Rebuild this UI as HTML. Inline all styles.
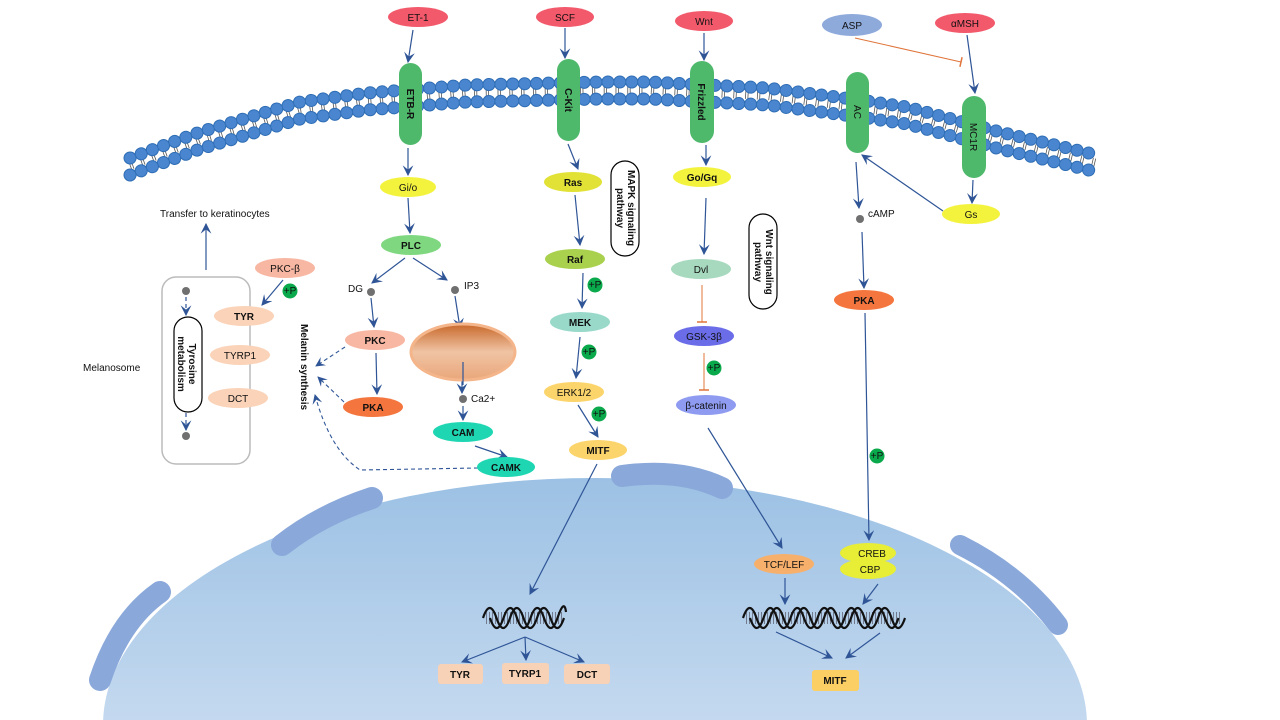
<!DOCTYPE html>
<html><head><meta charset="utf-8"><style>
html,body{margin:0;padding:0;background:#fff;overflow:hidden;width:1280px;height:720px}
svg{display:block}
text{font-family:"Liberation Sans",sans-serif;font-weight:bold;font-size:10px;fill:#111}
.n{font-weight:normal}
</style></head><body>
<svg width="1280" height="720" viewBox="0 0 1280 720" xmlns="http://www.w3.org/2000/svg">
<defs>
<linearGradient id="nuc" x1="0" y1="0" x2="0" y2="1"><stop offset="0" stop-color="#9cc1e4"/><stop offset="1" stop-color="#c4d9ef"/></linearGradient>
<linearGradient id="er" x1="0" y1="0" x2="0" y2="1"><stop offset="0" stop-color="#c8682a"/><stop offset="0.5" stop-color="#f0c4a4"/><stop offset="1" stop-color="#e9a67a"/></linearGradient>
<marker id="a" viewBox="0 0 10 10" refX="9" refY="5" markerWidth="9" markerHeight="9" orient="auto"><path d="M0,0 L10,5 L0,10 L4,5 z" fill="#2f5597"/></marker>
<marker id="t" viewBox="0 0 10 10" refX="5" refY="5" markerWidth="10" markerHeight="10" orient="auto"><path d="M5,0 L5,10" stroke="#e0743a" stroke-width="1.5"/></marker>
</defs>
<path d="M103.1,720 A492,247 0 0 1 1086.9,720 Z" fill="url(#nuc)"/>
<g stroke="#8aa8da" stroke-linecap="round" fill="none">
<path d="M100,680 Q120,620 160,592" stroke-width="22"/>
<path d="M282,545 Q320,515 372,498" stroke-width="22"/>
<path d="M622,476 Q680,468 722,488" stroke-width="22"/>
<path d="M960,545 Q1020,575 1058,625" stroke-width="20"/>
</g>
<g fill="none">
<path d="M130,166 L200,140 L300,110 L367,101 L467,93 L600,90 L650,90 L767,96 L860,108 L907,115 L1000,140 L1097,163" stroke="#555" stroke-width="8" stroke-dasharray="0.8 1.6 0.8 8.6"/>
<path d="M130,158 L200,132 L300,102 L367,93 L467,85 L600,82 L650,82 L767,88 L860,100 L907,107 L1000,132 L1097,155" stroke="#2e6db4" stroke-width="13" stroke-linecap="round" stroke-dasharray="0.1 11.8"/>
<path d="M130,158 L200,132 L300,102 L367,93 L467,85 L600,82 L650,82 L767,88 L860,100 L907,107 L1000,132 L1097,155" stroke="#4a86d0" stroke-width="11" stroke-linecap="round" stroke-dasharray="0.1 11.8"/>
<path d="M130,175 L200,149 L300,119 L367,110 L467,102 L600,99 L650,99 L767,105 L860,117 L907,124 L1000,149 L1097,172" stroke="#2e6db4" stroke-width="13" stroke-linecap="round" stroke-dasharray="0.1 11.8"/>
<path d="M130,175 L200,149 L300,119 L367,110 L467,102 L600,99 L650,99 L767,105 L860,117 L907,124 L1000,149 L1097,172" stroke="#4a86d0" stroke-width="11" stroke-linecap="round" stroke-dasharray="0.1 11.8"/>
</g>
<rect x="162" y="277" width="88" height="187" rx="14" fill="none" stroke="#bbb" stroke-width="1.5"/>
<rect x="174" y="317" width="28" height="95" rx="14" fill="#fff" stroke="#000" stroke-width="1.2"/>
<text transform="translate(189,364) rotate(90)" text-anchor="middle" font-size="10">Tyrosine</text>
<text transform="translate(178,364) rotate(90)" text-anchor="middle" font-size="10">metabolism</text>
<circle cx="186" cy="291" r="4" fill="#707070"/><circle cx="186" cy="436" r="4" fill="#707070"/>
<g stroke="#2f5597" stroke-width="1.2" fill="none" marker-end="url(#a)">
<line x1="186" y1="297" x2="186" y2="315" stroke-dasharray="4,3"/>
<line x1="186" y1="413" x2="186" y2="430" stroke-dasharray="4,3"/>
<line x1="206" y1="270" x2="206" y2="224"/>
<line x1="283" y1="280" x2="262" y2="305"/>
<line x1="413" y1="30" x2="408" y2="62"/>
<line x1="565" y1="28" x2="565" y2="58"/>
<line x1="704" y1="33" x2="704" y2="60"/>
<line x1="967" y1="35" x2="975" y2="93"/>
<line x1="408" y1="148" x2="408" y2="175"/>
<line x1="408" y1="198" x2="410" y2="233"/>
<line x1="405" y1="258" x2="372" y2="283"/>
<line x1="413" y1="258" x2="447" y2="280"/>
<line x1="371" y1="298" x2="374" y2="327"/>
<line x1="376" y1="353" x2="377" y2="394"/>
<line x1="455" y1="296" x2="460" y2="328"/>
<line x1="462" y1="362" x2="462" y2="393"/>
<line x1="463" y1="406" x2="463" y2="420"/>
<line x1="475" y1="446" x2="507" y2="457"/>
<line x1="568" y1="144" x2="578" y2="169"/>
<line x1="575" y1="195" x2="580" y2="245"/>
<line x1="583" y1="273" x2="582" y2="308"/>
<line x1="580" y1="337" x2="576" y2="378"/>
<line x1="578" y1="405" x2="598" y2="437"/>
<line x1="706" y1="145" x2="706" y2="165"/>
<line x1="706" y1="198" x2="704" y2="254"/>
<line x1="856" y1="162" x2="859" y2="208"/>
<line x1="862" y1="232" x2="864" y2="288"/>
<line x1="943" y1="211" x2="862" y2="155"/>
<line x1="973" y1="180" x2="972" y2="203"/>
<line x1="865" y1="313" x2="869" y2="540"/>
<line x1="708" y1="428" x2="782" y2="548"/>
<line x1="597" y1="464" x2="530" y2="594"/>
<line x1="785" y1="578" x2="785" y2="604"/>
<line x1="878" y1="584" x2="863" y2="604"/>
<line x1="776" y1="632" x2="832" y2="658"/>
<line x1="880" y1="633" x2="846" y2="658"/>
<line x1="525" y1="637" x2="462" y2="662"/>
<line x1="525" y1="637" x2="526" y2="660"/>
<line x1="525" y1="637" x2="584" y2="662"/>
</g>
<g stroke="#2f5597" stroke-width="1.1" fill="none" stroke-dasharray="4,3" marker-end="url(#a)">
<line x1="345" y1="347" x2="316" y2="366"/>
<line x1="344" y1="402" x2="318" y2="377"/>
<path d="M478,468 L360,470 Q330,450 315,395"/>
</g>
<g stroke="#e0743a" stroke-width="1" fill="none" marker-end="url(#t)">
<line x1="855" y1="38" x2="961" y2="62"/>
<line x1="702" y1="285" x2="702" y2="322"/>
<line x1="704" y1="353" x2="704" y2="390"/>
</g>
<ellipse cx="463" cy="352" rx="52" ry="28" fill="url(#er)" stroke="#f4b58a" stroke-width="3"/>
<line x1="463" y1="362" x2="463" y2="385" stroke="#2f5597" stroke-width="1.2"/>
<g fill="#4eb86b">
<rect x="399" y="63" width="23" height="82" rx="11.5"/>
<rect x="557" y="59" width="23" height="82" rx="11.5"/>
<rect x="690" y="61" width="24" height="82" rx="12"/>
<rect x="846" y="72" width="23" height="81" rx="11.5"/>
<rect x="962" y="96" width="24" height="82" rx="12"/>
</g>
<text transform="translate(407,104) rotate(90)" text-anchor="middle">ETB-R</text>
<text transform="translate(565,100) rotate(90)" text-anchor="middle">C-Kit</text>
<text transform="translate(698,102) rotate(90)" text-anchor="middle">Frizzled</text>
<text transform="translate(854,112) rotate(90)" text-anchor="middle" class="n">AC</text>
<text transform="translate(970,137) rotate(90)" text-anchor="middle" class="n">MC1R</text>
<g>
<ellipse cx="418" cy="17" rx="30" ry="10" fill="#f2596b"/><text x="418" y="21" text-anchor="middle" class="n">ET-1</text>
<ellipse cx="565" cy="17" rx="29" ry="10" fill="#f2596b"/><text x="565" y="21" text-anchor="middle" class="n">SCF</text>
<ellipse cx="704" cy="21" rx="29" ry="10" fill="#f2596b"/><text x="704" y="25" text-anchor="middle" class="n">Wnt</text>
<ellipse cx="852" cy="25" rx="30" ry="11" fill="#8eaadb"/><text x="852" y="29" text-anchor="middle" class="n">ASP</text>
<ellipse cx="965" cy="23" rx="30" ry="10" fill="#f2596b"/><text x="965" y="27" text-anchor="middle" class="n">αMSH</text>
<ellipse cx="408" cy="187" rx="28" ry="10" fill="#f3f33e"/><text x="408" y="191" text-anchor="middle" class="n">Gi/o</text>
<ellipse cx="573" cy="182" rx="29" ry="10" fill="#e1e235"/><text x="573" y="186" text-anchor="middle">Ras</text>
<ellipse cx="702" cy="177" rx="29" ry="10" fill="#f3f33e"/><text x="702" y="181" text-anchor="middle">Go/Gq</text>
<ellipse cx="971" cy="214" rx="29" ry="10" fill="#f3f33e"/><text x="971" y="218" text-anchor="middle" class="n">Gs</text>
<ellipse cx="411" cy="245" rx="30" ry="10" fill="#7fd880"/><text x="411" y="249" text-anchor="middle">PLC</text>
<ellipse cx="575" cy="259" rx="30" ry="10" fill="#a9d14e"/><text x="575" y="263" text-anchor="middle">Raf</text>
<ellipse cx="701" cy="269" rx="30" ry="10" fill="#a6d9bd"/><text x="701" y="273" text-anchor="middle" class="n">Dvl</text>
<ellipse cx="580" cy="322" rx="30" ry="10" fill="#98d9ca"/><text x="580" y="326" text-anchor="middle">MEK</text>
<ellipse cx="704" cy="336" rx="30" ry="10" fill="#6a6ce8"/><text x="704" y="340" text-anchor="middle" class="n">GSK-3β</text>
<ellipse cx="574" cy="392" rx="30" ry="10" fill="#fbd46b"/><text x="574" y="396" text-anchor="middle" class="n">ERK1/2</text>
<ellipse cx="706" cy="405" rx="30" ry="10" fill="#8e9bf0"/><text x="706" y="409" text-anchor="middle" class="n">β-catenin</text>
<ellipse cx="598" cy="450" rx="29" ry="10" fill="#fbd46b"/><text x="598" y="454" text-anchor="middle">MITF</text>
<ellipse cx="864" cy="300" rx="30" ry="10" fill="#f4763e"/><text x="864" y="304" text-anchor="middle">PKA</text>
<ellipse cx="375" cy="340" rx="30" ry="10" fill="#f7b7a2"/><text x="375" y="344" text-anchor="middle">PKC</text>
<ellipse cx="373" cy="407" rx="30" ry="10" fill="#f4763e"/><text x="373" y="411" text-anchor="middle">PKA</text>
<ellipse cx="463" cy="432" rx="30" ry="10" fill="#1fd6b3"/><text x="463" y="436" text-anchor="middle">CAM</text>
<ellipse cx="506" cy="467" rx="29" ry="10" fill="#1fd6b3"/><text x="506" y="471" text-anchor="middle">CAMK</text>
<ellipse cx="285" cy="268" rx="30" ry="10" fill="#f7b7a2"/><text x="285" y="272" text-anchor="middle" class="n">PKC-β</text>
<ellipse cx="244" cy="316" rx="30" ry="10" fill="#fad3b8"/><text x="244" y="320" text-anchor="middle">TYR</text>
<ellipse cx="240" cy="355" rx="30" ry="10" fill="#fad3b8"/><text x="240" y="359" text-anchor="middle" class="n">TYRP1</text>
<ellipse cx="238" cy="398" rx="30" ry="10" fill="#fad3b8"/><text x="238" y="402" text-anchor="middle" class="n">DCT</text>
<ellipse cx="784" cy="564" rx="30" ry="10" fill="#f6b06c"/><text x="784" y="568" text-anchor="middle" class="n">TCF/LEF</text>
<ellipse cx="868" cy="553" rx="28" ry="10" fill="#e7ee35"/><ellipse cx="868" cy="569" rx="28" ry="10" fill="#e7ee35"/>
<text x="872" y="557" text-anchor="middle" class="n">CREB</text><text x="870" y="573" text-anchor="middle" class="n">CBP</text>
</g>
<rect x="438" y="664" width="45" height="20" rx="3" fill="#f8d2b6"/><text x="460" y="678" text-anchor="middle">TYR</text>
<rect x="502" y="663" width="47" height="21" rx="3" fill="#f8d2b6"/><text x="525" y="677" text-anchor="middle">TYRP1</text>
<rect x="564" y="664" width="46" height="20" rx="3" fill="#f8d2b6"/><text x="587" y="678" text-anchor="middle">DCT</text>
<rect x="812" y="670" width="47" height="21" rx="3" fill="#fbcf64"/><text x="835" y="684" text-anchor="middle">MITF</text>
<g fill="#0aa94b">
<circle cx="290" cy="291" r="7.5"/><circle cx="595" cy="285" r="7.5"/><circle cx="589" cy="352" r="7.5"/><circle cx="599" cy="414" r="7.5"/><circle cx="714" cy="368" r="7.5"/><circle cx="877" cy="456" r="7.5"/>
</g>
<text x="290" y="294" text-anchor="middle" font-size="8" class="n">+P</text><text x="595" y="288" text-anchor="middle" font-size="8" class="n">+P</text><text x="589" y="355" text-anchor="middle" font-size="8" class="n">+P</text><text x="599" y="417" text-anchor="middle" font-size="8" class="n">+P</text><text x="714" y="371" text-anchor="middle" font-size="8" class="n">+P</text><text x="877" y="459" text-anchor="middle" font-size="8" class="n">+P</text>
<g fill="#707070"><circle cx="371" cy="292" r="4"/><circle cx="455" cy="290" r="4"/><circle cx="463" cy="399" r="4"/><circle cx="860" cy="219" r="4"/></g>
<text x="348" y="292" class="n">DG</text><text x="464" y="289" class="n">IP3</text><text x="471" y="402" class="n">Ca2+</text><text x="868" y="217" class="n">cAMP</text>
<text x="160" y="217" class="n">Transfer to keratinocytes</text>
<text x="83" y="371" class="n">Melanosome</text>
<text transform="translate(301,367) rotate(90)" text-anchor="middle" font-size="10">Melanin synthesis</text>
<rect x="611" y="161" width="28" height="95" rx="14" fill="#fff" stroke="#000" stroke-width="1.2"/>
<text transform="translate(628,208) rotate(90)" text-anchor="middle">MAPK signaling</text>
<text transform="translate(617,208) rotate(90)" text-anchor="middle">pathway</text>
<rect x="749" y="214" width="28" height="95" rx="14" fill="#fff" stroke="#000" stroke-width="1.2"/>
<text transform="translate(766,262) rotate(90)" text-anchor="middle">Wnt signaling</text>
<text transform="translate(755,262) rotate(90)" text-anchor="middle">pathway</text>
<g fill="none">
<line x1="486" y1="618" x2="562" y2="618" stroke="#556" stroke-width="12" stroke-dasharray="0.7 2.3"/>
<line x1="746" y1="618" x2="902" y2="618" stroke="#556" stroke-width="12" stroke-dasharray="0.7 2.3"/>
<g stroke="#111" stroke-width="2.2">
<path d="M483,618 Q489.75,598 496.5,618 T510,618 T523.5,618 T537,618 T550.5,618 T564,618"/>
<path d="M490,618 Q496.75,638 503.5,618 T517,618 T530.5,618 T544,618 T557.5,618 T566,612"/>
<path d="M743,618 Q749.75,598 756.5,618 T770,618 T783.5,618 T797,618 T810.5,618 T824,618 T837.5,618 T851,618 T864.5,618 T878,618 T891.5,618 T905,618"/>
<path d="M750,618 Q756.75,638 763.5,618 T777,618 T790.5,618 T804,618 T817.5,618 T831,618 T844.5,618 T858,618 T871.5,618 T885,618 T898.5,618"/>
</g>
</g>
</svg>
</body></html>
